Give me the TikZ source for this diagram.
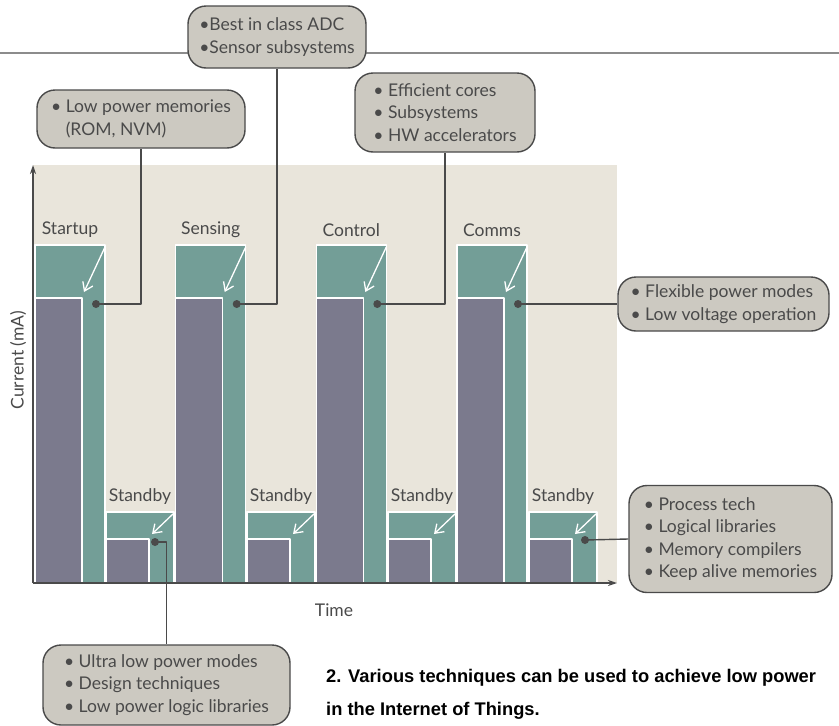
\documentclass[tikz,border=0pt]{standalone}
\usepackage{fontspec}
\setmainfont{Lato}
\newfontfamily\capfont{Liberation Sans}
\usetikzlibrary{arrows.meta}
\definecolor{tealbar}{HTML}{739E97}
\definecolor{mauvebar}{HTML}{7B7A8D}
\definecolor{sand}{HTML}{E9E5DB}
\definecolor{boxgray}{HTML}{CCC9C1}
\definecolor{ink}{HTML}{4A4A4A}
\definecolor{rule}{HTML}{8C8C8C}

\begin{document}
\begin{tikzpicture}[x=1pt,y=-1pt,line join=round,
    callout/.style={draw=ink,fill=boxgray,line width=1.4pt,rounded corners=18pt,
      text=ink,align=left,inner sep=0pt,font=\fontsize{17.5}{22.5}\selectfont},
    phase/.style={text=ink,font=\fontsize{17.5}{20}\selectfont},
    wire/.style={ink,line width=1.4pt},
    bar/.style={draw=white,line width=1.3pt},
    hint/.style={white,line width=1.3pt,-{Straight Barb[length=8pt,width=11pt]}},
    axis/.style={ink,line width=1.4pt,-{Stealth[length=9pt,width=6pt]}}]
    \useasboundingbox (0,0) rectangle (839,726);
    \draw [rule,line width=1.5pt] (0,53) -- (839,53);
    \fill [sand] (33,165) rectangle (617,583);
    % active phases
    \foreach \x/\i/\lbl in {35/1/Startup,175.7/2/Sensing,316.3/3/Control,457/4/Comms} {
        \draw [bar,fill=tealbar] (\x,245) rectangle (\x+70,583);
        \draw [bar,fill=mauvebar] (\x,298) rectangle (\x+47,583);
        \draw [hint] (\x+70,247) -- (\x+49,292);
        \node [phase] (lbl\i) at (\x+35,230) {\lbl};
        \coordinate (act\i) at (\x+61,304);
    }
    % standby phases
    \foreach \x/\i in {106/1,247/2,388/3,529/4} {
        \draw [bar,fill=tealbar] (\x,512) rectangle (\x+68,583);
        \draw [bar,fill=mauvebar] (\x,539) rectangle (\x+43,583);
        \draw [hint] (\x+68,513) -- (\x+46,534);
        \node [phase] (sby\i) at (\x+34,497) {Standby};
    }
    \coordinate (sb1) at (155,542);
    \coordinate (sb4) at (585,540);
    \coordinate (O) at (33,583);
    \draw [axis] (O) -- (33,165);
    \draw [axis] (O) -- (617,583);
    \node [phase] (tlabel) at (334,610) {Time};
    \node [phase,rotate=90] (ilabel) at (18,360) {Current (mA)};
    % callouts
    \node [callout,minimum width=208pt,minimum height=58pt] (rom) at (141,119)
        {• Low power memories\\\phantom{• }(ROM, NVM)};
    \node [callout,minimum width=178pt,minimum height=62pt] (adc) at (277,37)
        {•Best in class ADC\\•Sensor subsystems};
    \node [callout,minimum width=180pt,minimum height=79pt] (cores) at (445,112.5)
        {• Efficient cores\\• Subsystems\\• HW accelerators};
    \node [callout,minimum width=211pt,minimum height=54pt] (flex) at (723.5,304)
        {• Flexible power modes\\• Low voltage operation};
    \node [callout,minimum width=203pt,minimum height=107pt] (proc) at (730.5,539)
        {• Process tech\\• Logical libraries\\• Memory compilers\\• Keep alive memories};
    \node [callout,minimum width=247pt,minimum height=80pt] (ultra) at (166.5,685)
        {• Ultra low power modes\\• Design techniques\\• Low power logic libraries};
    % connectors
    \draw [wire] (act1) -| (rom.south);
    \draw [wire] (act2) -| (adc.south);
    \draw [wire] (act3) -| (cores.south);
    \draw [wire] (act4) -- (flex.west);
    \draw [wire] (sb1) -| (ultra.north);
    \draw [wire] (sb4) -- (proc.west);
    \foreach \d in {act1,act2,act3,act4,sb1,sb4}
        \fill [ink] (\d) circle (4pt);
    % caption
    \node [anchor=base west,inner sep=0pt,font=\capfont\bfseries\fontsize{18.3}{33}\selectfont] (cap1) at (326,682)
        {2. Various techniques can be used to achieve low power};
    \node [anchor=base west,inner sep=0pt,font=\capfont\bfseries\fontsize{18.3}{33}\selectfont] (cap2) at (326,715)
        {in the Internet of Things.};
\end{tikzpicture}
\end{document}
